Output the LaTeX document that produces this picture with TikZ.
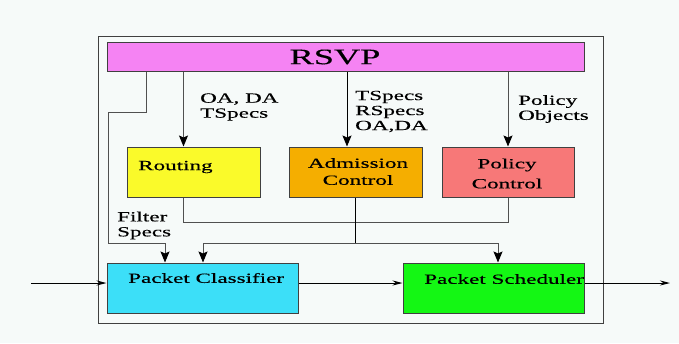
\documentclass[tikz,border=0pt]{standalone}
\usepackage{fontspec}
\setmainfont{Liberation Serif}[FakeStretch=1.65,FakeBold=0.3]
\usetikzlibrary{arrows.meta}
\definecolor{bg}{HTML}{F6FAF9}
\definecolor{rsvpc}{HTML}{F583F3}
\definecolor{routc}{HTML}{FAFA2A}
\definecolor{admc}{HTML}{F5AE00}
\definecolor{polc}{HTML}{F77878}
\definecolor{clsc}{HTML}{3CDFF8}
\definecolor{schc}{HTML}{14F714}
\definecolor{ln}{HTML}{505050}
\definecolor{bd}{HTML}{404040}
\tikzset{
  box/.style={draw=bd, line width=1pt, rectangle, inner sep=0pt},
  txt/.style={inner sep=0pt, font=\fontsize{14}{15}\selectfont, text=black},
  lbl/.style={inner sep=0pt, font=\fontsize{14}{15}\selectfont, align=left, text=black, anchor=west},
  conn/.style={draw=ln, line width=1pt},
  arr/.style={conn, -{Stealth[length=11pt,width=9pt,inset=2pt,fill=black,color=black]}},
  arrs/.style={conn, -{Stealth[length=10pt,width=5pt,fill=black,color=black]}}
}
\begin{document}
\begin{tikzpicture}[x=1pt,y=-1pt]
\fill[bg] (0,0) rectangle (679,343);
\useasboundingbox (0,0) rectangle (679,343);
% frame
\node[box, minimum width=505pt, minimum height=287pt] (frame) at (350.5,179.5) {};
% boxes
\node[box, fill=rsvpc, minimum width=477pt, minimum height=29pt] (rsvp) at (345.5,56.5) {};
\node[box, fill=routc, minimum width=133pt, minimum height=50pt] (routing) at (193.5,172) {};
\node[box, fill=admc, minimum width=133pt, minimum height=50pt] (adm) at (355.5,172) {};
\node[box, fill=polc, minimum width=132pt, minimum height=50pt] (policy) at (508,172) {};
\node[box, fill=clsc, minimum width=191pt, minimum height=50pt] (cls) at (202.5,288) {};
\node[box, fill=schc, minimum width=181pt, minimum height=50pt] (sch) at (493.5,288) {};
% box texts
\node[inner sep=0pt, font=\fontsize{22}{24}\selectfont, text=black] (trsvp) at (335,57) {RSVP};
\node[txt, anchor=west] (trout) at (138,167) {Routing};
\node[txt, align=center] (tadm) at (358,171.5) {Admission\\[2pt]Control};
\node[txt, align=center] (tpol) at (507,173.5) {Policy\\[5pt]Control};
\node[txt, anchor=west] (tcls) at (128,278) {Packet Classifier};
\node[txt, anchor=west] (tsch) at (424,279) {Packet Scheduler};
% labels
\node[lbl] (l1) at (200,107) {OA, DA\\TSpecs};
\node[lbl] (l2) at (355,111.5) {TSpecs\\RSpecs\\OA,DA};
\node[lbl] (l3) at (518,109) {Policy\\Objects};
\node[lbl] (l4) at (117,225.5) {Filter\\Specs};
% x coordinates
\coordinate (xa) at (183.5,0);
\coordinate (xb) at (347,0);
\coordinate (xp) at (508,0);
\coordinate (xm) at (355.5,0);
\coordinate (xc1) at (165,0);
\coordinate (xc2) at (203,0);
\coordinate (xs) at (498,0);
\coordinate (f1) at (146,112);
\coordinate (f2) at (108,243);
\coordinate (j) at (0,222.5);
\coordinate (k) at (0,243);
\coordinate (in) at (31,283);
\coordinate (out) at (670,283);
% RSVP arrows
\draw[arr] (rsvp.south -| xa) -- (routing.north -| xa);
\draw[arr, draw=black] (rsvp.south -| xb) -- (adm.north -| xb);
\draw[arr] (rsvp.south -| xp) -- (policy.north -| xp);
% filter specs path
\draw[arr] (rsvp.south -| f1) -- (f1) -| (f2) -| (cls.north -| xc1);
% routing / policy join
\draw[conn] (routing.south -| xa) -- (xa |- j) -- (xp |- j) -- (policy.south -| xp);
% admission down and split
\draw[conn, draw=black] (adm.south -| xm) -- (xm |- k);
\draw[arr] (xm |- k) -| (cls.north -| xc2);
\draw[arr] (xm |- k) -| (sch.north -| xs);
% data path
\draw[arrs, draw=black] (in) -- (cls.west |- in);
\draw[arrs, draw=black] (cls.east |- in) -- (sch.west |- in);
\draw[arrs, draw=black] (sch.east |- in) -- (out);
\end{tikzpicture}
\end{document}
